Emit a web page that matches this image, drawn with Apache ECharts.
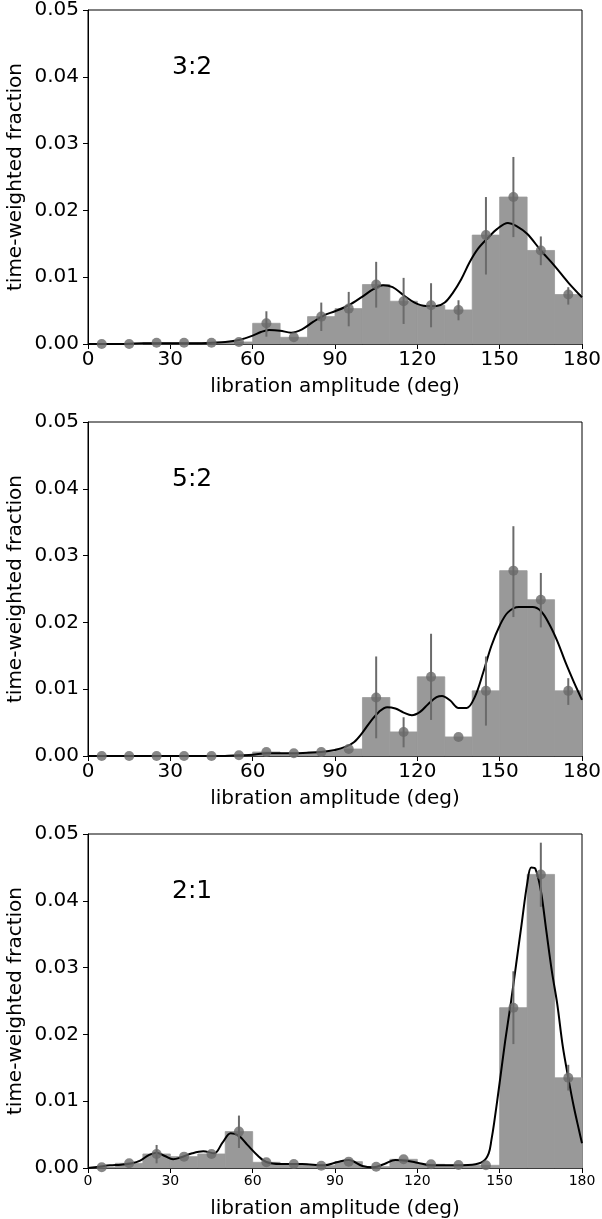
<!DOCTYPE html>
<html>
<head>
<meta charset="utf-8">
<script src="https://cdn.jsdelivr.net/npm/echarts@6/dist/echarts.min.js"></script>
<style>
html,body{margin:0;padding:0;background:#fff;}
#chart{width:602px;height:1219px;}
</style>
</head>
<body>
<div id="chart"></div>
<script>
// ---------- data ----------
const binCenters = [5,15,25,35,45,55,65,75,85,95,105,115,125,135,145,155,165,175];
const xTicks = [0,30,60,90,120,150,180];
const yTicks = [0.00,0.01,0.02,0.03,0.04,0.05];
const panelLabels = ['3:2','5:2','2:1'];

const hist32 = [0,0,0.0002,0.0002,0.0002,0.0003,0.0031,0.0010,0.0041,0.0053,0.0089,0.0064,0.0058,0.0051,0.0163,0.0220,0.0140,0.0074];
const errLo32 = [null,null,null,null,null,null,0.0011,null,0.00195,0.00265,0.00545,0.0030,0.0025,0.00355,0.0104,0.0160,0.0118,0.0059];
const errHi32 = [null,null,null,null,null,null,0.0049,null,0.0062,0.0078,0.0123,0.0099,0.0091,0.00655,0.0220,0.0280,0.0161,0.0085];
const kdeX32 = [0,10,20,30,40,45,50,55,60,63,66,70,74,78,82,86,90,95,100,104,107.5,111,115,119,123,127,130,133,136,139,142,146,149,153,156,160,165,170,175,180];
const kdeY32 = [0,0,0.0001,0.0001,0.0001,0.0002,0.0003,0.0006,0.00125,0.0018,0.0021,0.0020,0.0017,0.0022,0.0033,0.0043,0.0049,0.0058,0.0071,0.0082,0.0088,0.0085,0.0073,0.0062,0.0057,0.0057,0.0062,0.0077,0.0097,0.0122,0.0142,0.0160,0.0172,0.0181,0.0177,0.0165,0.0140,0.0117,0.0092,0.0070];

const hist52 = [0,0,0,0,0,0.0001,0.0006,0.0004,0.0006,0.00105,0.00875,0.0036,0.01185,0.00285,0.00975,0.02775,0.0234,0.00975];
const errLo52 = [null,null,null,null,null,null,null,null,null,null,0.00265,0.0013,0.0054,null,0.00455,0.0208,0.01925,0.00765];
const errHi52 = [null,null,null,null,null,null,null,null,null,null,0.0149,0.0058,0.0183,null,0.0149,0.0344,0.0274,0.01165];
const kdeX52 = [0,10,20,30,40,50,55,60,65,70,75,80,85,90,94,97,100,103,106,109,112,115,118,121,124,127,129,132,135,138,141,144,147,150,153,157,162,165,168,171,174,177,180];
const kdeY52 = [0,0,0,0,0,0,0.0001,0.0002,0.0004,0.0004,0.0004,0.0005,0.0006,0.0009,0.0014,0.0021,0.0035,0.0052,0.0066,0.0073,0.0071,0.0065,0.0061,0.0066,0.0078,0.0088,0.0090,0.0083,0.0072,0.0072,0.0089,0.0125,0.0165,0.0195,0.0215,0.0223,0.0223,0.0217,0.0198,0.0172,0.0140,0.0111,0.0084];

const hist21 = [0.0001,0.0007,0.0021,0.0017,0.0021,0.00545,0.00085,0.0006,0.00035,0.00095,0.0002,0.0013,0.00055,0.00045,0.0004,0.0240,0.04395,0.0135];
const errLo21 = [null,null,0.0007,null,null,0.0030,null,null,null,null,null,null,null,null,null,0.01855,0.0391,0.0116];
const errHi21 = [null,null,0.00345,null,null,0.00785,null,null,null,null,null,null,null,null,null,0.02945,0.0487,0.01545];
const kdeX21 = [0,4,8,12,16,19,22,25,28,31,34,38,42,46,49,52,55,58,62,65,70,78,86,91,95,100,104,108,112,116,120,125,132,140,144,146,147,148,150,152,154,156,158,160,161.5,163,165,167,169,171,173,175,177,179,180];
const kdeY21 = [0,0.0002,0.0004,0.0005,0.0007,0.0011,0.0019,0.0023,0.0018,0.0013,0.0016,0.0022,0.0025,0.0022,0.0038,0.0052,0.0048,0.0035,0.0018,0.0009,0.0006,0.0006,0.0004,0.0009,0.0012,0.0003,0.0001,0.0006,0.0012,0.0011,0.0008,0.0004,0.0004,0.0005,0.0010,0.0022,0.0042,0.0068,0.0128,0.0190,0.0245,0.0305,0.0365,0.0425,0.0450,0.0448,0.0415,0.0355,0.0295,0.0245,0.0182,0.0135,0.0092,0.0055,0.0037];

const panels = [
  {hist: hist32, lo: errLo32, hi: errHi32, kx: kdeX32, ky: kdeY32, xLabelSize: 20},
  {hist: hist52, lo: errLo52, hi: errHi52, kx: kdeX52, ky: kdeY52, xLabelSize: 20},
  {hist: hist21, lo: errLo21, hi: errHi21, kx: kdeX21, ky: kdeY21, xLabelSize: 14}
];

// ---------- chart ----------
const FONT = 'DejaVu Sans';
const tops = [10, 422, 834];
const grids = [], xAxes = [], yAxes = [], series = [], graphics = [];
const binW = binCenters[1] - binCenters[0];

panels.forEach((p, i) => {
  grids.push({left: 88, top: tops[i], width: 494, height: 334, show: true, borderColor: '#000', borderWidth: 1,
              backgroundColor: 'transparent', containLabel: false, outerBoundsMode: 'none'});
  xAxes.push({
    type: 'value', gridIndex: i, min: xTicks[0], max: xTicks[xTicks.length-1], interval: xTicks[1]-xTicks[0],
    name: 'libration amplitude (deg)', nameLocation: 'middle', nameGap: i === 2 ? 31 : 33, nameMoveOverlap: false,
    nameTextStyle: {fontFamily: FONT, fontSize: 20, color: '#000'},
    axisLine: {lineStyle: {color: '#000', width: 1}},
    axisTick: {show: true, length: 5, lineStyle: {color: '#000'}},
    axisLabel: {fontFamily: FONT, fontSize: p.xLabelSize, color: '#000', margin: 6, showMaxLabel: true, showMinLabel: true},
    splitLine: {show: false}
  });
  yAxes.push({
    type: 'value', gridIndex: i, min: yTicks[0], max: yTicks[yTicks.length-1], interval: yTicks[1]-yTicks[0],
    name: 'time-weighted fraction', nameLocation: 'middle', nameGap: 62, nameMoveOverlap: false,
    nameTextStyle: {fontFamily: FONT, fontSize: 20, color: '#000'},
    axisLine: {show: true, lineStyle: {color: '#000', width: 1}},
    axisTick: {show: true, length: 5, lineStyle: {color: '#000'}},
    axisLabel: {fontFamily: FONT, fontSize: 20, color: '#000', margin: 9, formatter: v => v.toFixed(2), showMaxLabel: true},
    splitLine: {show: false}
  });

  // histogram bars
  series.push({
    type: 'custom', xAxisIndex: i, yAxisIndex: i, z: 1,
    data: binCenters.map((c, k) => [c - binW/2, c + binW/2, p.hist[k]]),
    encode: {x: [0, 1], y: 2},
    renderItem: (params, api) => {
      const a = api.coord([api.value(0), api.value(2)]);
      const b = api.coord([api.value(1), 0]);
      return {type: 'rect', shape: {x: a[0], y: a[1], width: b[0]-a[0], height: b[1]-a[1]},
              style: {fill: '#999999', stroke: '#999999', lineWidth: 0.8}};
    },
    silent: true
  });
  // KDE line
  series.push({
    type: 'line', xAxisIndex: i, yAxisIndex: i, z: 3,
    data: p.kx.map((x, k) => [x, p.ky[k]]),
    smooth: 0.35, showSymbol: false, symbol: 'none',
    lineStyle: {color: '#000', width: 2}, silent: true
  });
  // error bars
  const eb = [];
  binCenters.forEach((c, k) => { if (p.lo[k] != null) eb.push([c, p.lo[k], p.hi[k]]); });
  series.push({
    type: 'custom', xAxisIndex: i, yAxisIndex: i, z: 4,
    data: eb, encode: {x: 0, y: [1, 2]},
    renderItem: (params, api) => {
      const a = api.coord([api.value(0), api.value(1)]);
      const b = api.coord([api.value(0), api.value(2)]);
      return {type: 'line', shape: {x1: a[0], y1: a[1], x2: b[0], y2: b[1]}, style: {stroke: '#6b6b6b', lineWidth: 2}};
    },
    silent: true
  });
  // points
  series.push({
    type: 'scatter', xAxisIndex: i, yAxisIndex: i, z: 5,
    data: binCenters.map((c, k) => [c, p.hist[k]]),
    symbol: 'circle', symbolSize: 10,
    itemStyle: {color: '#696969'}, silent: true
  });

  graphics.push({
    type: 'text', left: 172, top: tops[i] + 45,
    style: {text: panelLabels[i], fontFamily: FONT, fontSize: 25, fill: '#000'}
  });
});

const chart = echarts.init(document.getElementById('chart'), null, {renderer: 'canvas'});
chart.setOption({
  animation: false,
  backgroundColor: '#fff',
  grid: grids, xAxis: xAxes, yAxis: yAxes, series: series, graphic: graphics
});
</script>
</body>
</html>
